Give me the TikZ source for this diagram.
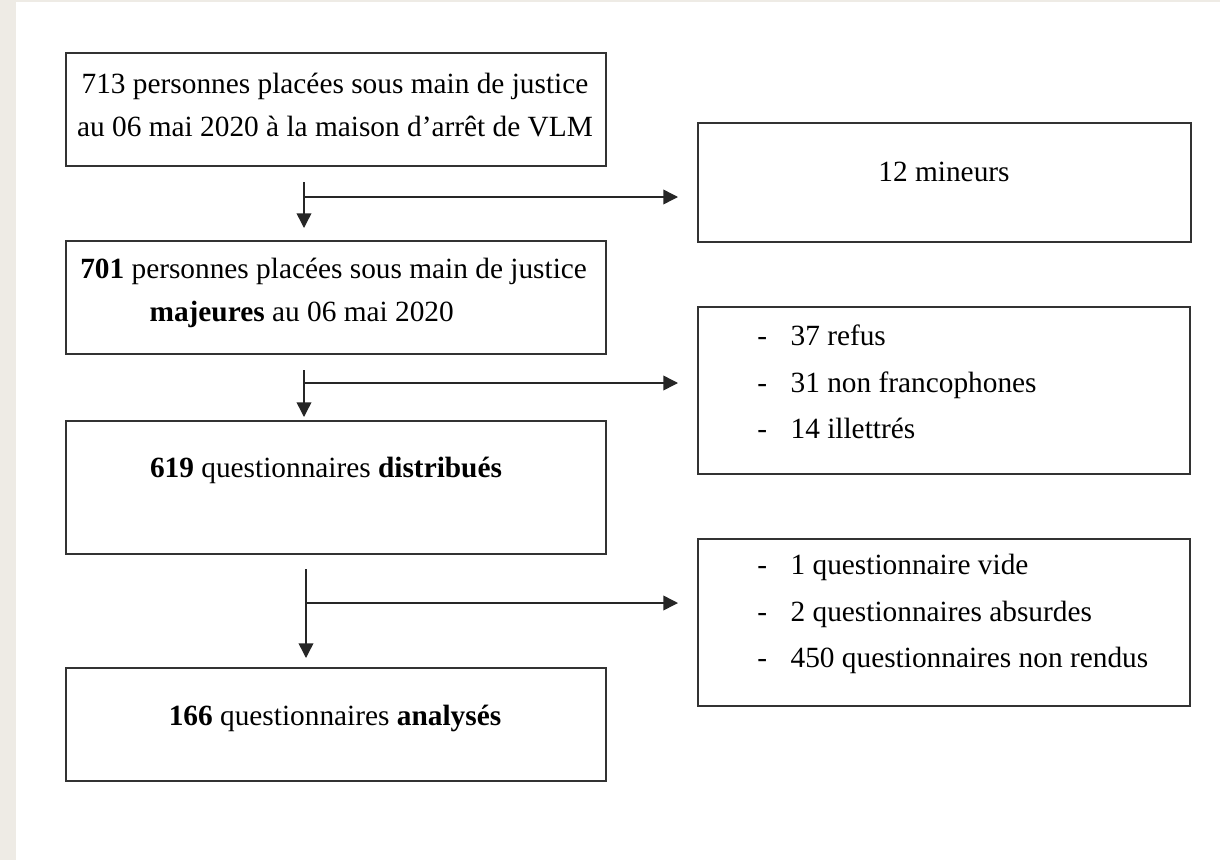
\documentclass[tikz,border=0pt]{standalone}
\usepackage{fontspec}
\setmainfont{Liberation Serif}
\usetikzlibrary{arrows.meta}
\definecolor{beige}{HTML}{EEEBE5}
\definecolor{edge}{HTML}{333333}
\tikzset{
  px/.style={x=0.75pt,y=-0.75pt},
  box/.style={draw=edge,line width=1.4pt,rectangle,inner sep=0pt},
  bigbox/.style={box,minimum width=405pt,minimum height=84.75pt},
  sidebox/.style={box,minimum width=369pt,minimum height=125.25pt},
  txt/.style={font=\fontsize{22}{32}\selectfont,align=center,inner sep=0pt},
  listtxt/.style={font=\fontsize{22}{35}\selectfont,align=left,inner sep=0pt,anchor=west},
  arr/.style={draw=black!85,line width=1.1pt,-{Triangle[length=11pt,width=11pt]}}
}
\newcommand{\itm}[1]{\makebox[25pt][l]{-}#1}
\begin{document}
\begin{tikzpicture}[px]
\useasboundingbox (0,0) rectangle (1220,860);
\fill[white] (0,0) rectangle (1220,860);
\fill[beige] (0,0) rectangle (16,860);
\fill[beige] (0,0) rectangle (1220,2);

% boxes
\node[bigbox] (b1) at (336,109.5) {};
\node[box,minimum width=369.75pt,minimum height=89.25pt] (b2) at (944.5,182.5) {};
\node[bigbox] (b3) at (336,297.5) {};
\node[sidebox] (b4) at (944,390.5) {};
\node[box,minimum width=405pt,minimum height=99.75pt] (b5) at (336,487.5) {};
\node[sidebox] (b6) at (944,622.5) {};
\node[bigbox] (b7) at (336,724.5) {};

% texts
\node[txt] (t1) at (335,105) {713 personnes placées sous main de justice\\au 06 mai 2020 à la maison d’arrêt de VLM};
\node[txt] (t2) at (944,172) {12 mineurs};
\node[txt,align=left,anchor=west] (t3) at (80,293) {\textbf{701} personnes placées sous main de justice\\\hspace*{52pt}\textbf{majeures} au 06 mai 2020};
\node[txt] (t5) at (326,470) {\textbf{619} questionnaires \textbf{distribués}};
\node[txt] (t7) at (335,718) {\textbf{166} questionnaires \textbf{analysés}};
\node[listtxt] (t4) at (757,382) {\itm{37 refus}\\\itm{31 non francophones}\\\itm{14 illettrés}};
\node[listtxt] (t6) at (757,614) {\itm{1 questionnaire vide}\\\itm{2 questionnaires absurdes}\\\itm{450 questionnaires non rendus}};

% connectors
\coordinate (s1) at (304,182);
\coordinate (j1) at (304,197);
\coordinate (e1) at (304,228);
\coordinate (h1) at (678,197);
\coordinate (s2) at (304,370);
\coordinate (j2) at (304,383);
\coordinate (e2) at (304,417);
\coordinate (h2) at (678,383);
\coordinate (s3) at (306,569);
\coordinate (j3) at (306,603);
\coordinate (e3) at (306,658);
\coordinate (h3) at (678,603);

\draw[arr] (s1) -- (e1);
\draw[arr] (j1) -- (h1);
\draw[arr] (s2) -- (e2);
\draw[arr] (j2) -- (h2);
\draw[arr] (s3) -- (e3);
\draw[arr] (j3) -- (h3);
\end{tikzpicture}
\end{document}
